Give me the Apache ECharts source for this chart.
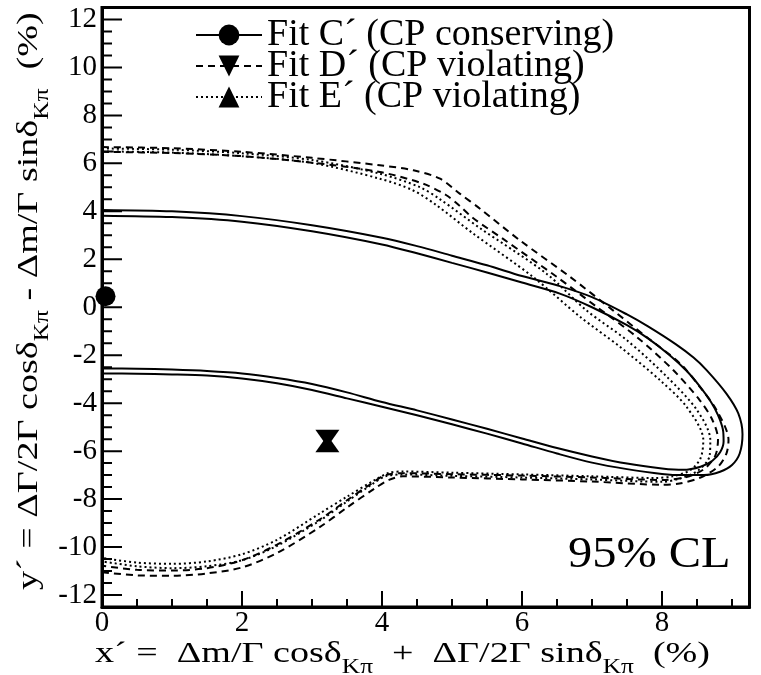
<!DOCTYPE html>
<html>
<head>
<meta charset="utf-8">
<script src="https://cdn.jsdelivr.net/npm/echarts@6/dist/echarts.min.js"></script>
<style>html,body{margin:0;padding:0;background:#fff}#c{width:761px;height:675px}</style>
</head>
<body>
<div id="c"></div>
<script>
// ---- data (in %) ----
const xMajorTicks = [0, 2, 4, 6, 8];
const xMinorTicks = [0.5, 1, 1.5, 2.5, 3, 3.5, 4.5, 5, 5.5, 6.5, 7, 7.5, 8.5, 9];
const yMajorTicks = [-12, -10, -8, -6, -4, -2, 0, 2, 4, 6, 8, 10, 12];
const yMinorTicks = [-11.5, -11, -10.5, -9.5, -9, -8.5, -7.5, -7, -6.5, -5.5, -5, -4.5, -3.5, -3, -2.5, -1.5, -1, -0.5,
                     0.5, 1, 1.5, 2.5, 3, 3.5, 4.5, 5, 5.5, 6.5, 7, 7.5, 8.5, 9, 9.5, 10.5, 11, 11.5];

const legendNames = ['Fit C´ (CP conserving)', 'Fit D´ (CP violating)', 'Fit E´ (CP violating)'];

// central values of the fits
const fitC = [[0.05, 0.46]];
const fitD = [[3.22, -5.46]];
const fitE = [[3.22, -5.69]];

// 95% CL contours, Fit C' (solid, two lines)
const contourC1 = [[0,4.06],[1,4.0],[2,3.8],[3,3.42],[4,2.9],[4.5,2.55],[5,2.15],[5.5,1.75],[6,1.3],[6.54,0.88],[7,0.42],[7.5,-0.3],[7.8,-0.8],[8.2,-1.55],[8.45,-2.1],[8.64,-2.63],[8.92,-3.6],[9.09,-4.43],[9.15,-5.3],[9.11,-6.1],[9.0,-6.58],[8.83,-6.86],[8.6,-7.0],[8.3,-7.0],[8.0,-6.95],[7.5,-6.75],[7,-6.48],[6.5,-6.1],[6,-5.68],[5.5,-5.27],[5,-4.88],[4.5,-4.5],[4,-4.15],[3.5,-3.8],[3,-3.45],[2.5,-3.17],[2,-2.97],[1.5,-2.85],[1,-2.8],[0.5,-2.77],[0,-2.76]];
const contourC2 = [[0,3.82],[1,3.76],[2,3.57],[3,3.17],[4,2.62],[4.5,2.25],[5,1.85],[5.5,1.45],[6,1.03],[6.54,0.57],[7,0.0],[7.5,-0.75],[7.8,-1.3],[8.11,-2.0],[8.35,-2.65],[8.54,-3.3],[8.7,-3.95],[8.8,-4.5],[8.87,-5.1],[8.88,-5.6],[8.83,-6.05],[8.72,-6.4],[8.55,-6.65],[8.3,-6.78],[8.0,-6.72],[7.5,-6.52],[7,-6.22],[6.5,-5.87],[6,-5.47],[5.5,-5.07],[5,-4.68],[4.5,-4.3],[4,-3.95],[3.5,-3.55],[3,-3.2],[2.5,-2.95],[2,-2.76],[1.5,-2.66],[1,-2.6],[0.5,-2.56],[0,-2.55]];

// Fit D' (dashed, two lines)
const contourD1 = [[0,6.68],[1,6.63],[2,6.48],[3,6.23],[3.97,5.92],[4.45,5.71],[4.83,5.36],[5.11,4.74],[5.4,4.11],[5.97,2.79],[6.69,1.26],[7.3,-0.13],[7.78,-1.24],[8.26,-2.35],[8.54,-3.32],[8.78,-4.29],[8.95,-5.54],[8.92,-6.1],[8.8,-6.65],[8.55,-7.1],[8.25,-7.35],[8.0,-7.4],[7,-7.27],[6,-7.18],[5,-7.1],[4.3,-7.05],[4.1,-7.2],[3.9,-7.55],[3.5,-8.35],[3.11,-9.17],[2.5,-10.25],[2,-10.85],[1.5,-11.1],[1,-11.2],[0.5,-11.18],[0,-11.05]];
const contourD2 = [[0,6.48],[1,6.43],[2,6.3],[3,6.03],[3.97,5.64],[4.59,5.15],[4.92,4.67],[5.1,4.25],[5.3,3.72],[5.73,2.85],[6.5,1.26],[7.07,0.01],[7.64,-1.24],[8.16,-2.62],[8.54,-3.88],[8.72,-4.7],[8.8,-5.5],[8.76,-6.2],[8.6,-6.75],[8.35,-7.08],[8.0,-7.2],[7,-7.1],[6,-7.02],[5,-6.96],[4.3,-6.92],[4.05,-7.0],[3.85,-7.35],[3.5,-8.05],[3.11,-8.85],[2.5,-9.9],[2,-10.55],[1.5,-10.88],[1,-10.98],[0.5,-10.95],[0,-10.78]];

// Fit E' (dotted, two lines)
const contourE1 = [[0,6.62],[1,6.57],[2,6.42],[3,6.14],[3.97,5.57],[4.54,5.01],[4.83,4.5],[5.4,3.3],[6.35,1.4],[6.92,-0.13],[7.5,-1.38],[8.07,-2.9],[8.5,-4.29],[8.69,-5.54],[8.68,-6.2],[8.52,-6.8],[8.25,-7.15],[8.0,-7.28],[7,-7.18],[6,-7.1],[5,-7.03],[4.3,-6.97],[4.05,-7.05],[3.85,-7.4],[3.5,-8.1],[3.11,-8.9],[2.5,-9.95],[2,-10.55],[1.5,-10.8],[1,-10.88],[0.5,-10.8],[0,-10.6]];
const contourE2 = [[0,6.5],[1,6.45],[2,6.3],[3,6.02],[3.97,5.36],[4.44,4.88],[4.78,4.25],[5.3,3.08],[6.16,1.26],[6.83,-0.4],[7.4,-1.65],[7.97,-3.04],[8.35,-4.15],[8.59,-5.54],[8.55,-6.3],[8.4,-6.8],[8.15,-7.05],[7.9,-7.12],[7,-7.05],[6,-6.97],[5,-6.9],[4.3,-6.85],[4.1,-6.9],[3.9,-7.2],[3.5,-7.9],[3.11,-8.6],[2.5,-9.7],[2,-10.3],[1.5,-10.6],[1,-10.7],[0.5,-10.65],[0,-10.45]];

const xTitle = '{m|x´ =  Δm/Γ cosδ}{s|Kπ}{m|  +  ΔΓ/2Γ sinδ}{s|Kπ}{m|  (%)}';
const yTitle = '{m|y´ = ΔΓ/2Γ cosδ}{s|Kπ}{m| - Δm/Γ sinδ}{s|Kπ}{m|  (%)}';
const clText = '95% CL';

// ---- chart ----
const FONT = '"Liberation Serif", "Times New Roman", Times, serif';
const DASH = [7, 5];
const DOT = [2, 3];
const W = 761, H = 675;
const GRID = {left: 102, right: 11.5, top: 7.5, bottom: 68};
const X_RANGE = {min: 0, max: 9.25};
const Y_RANGE = {min: -12.5, max: 12.5};
const TICK_PX = {xMajor: 16, xMinor: 8, yMajor: 20, yMinor: 10};

// tick lengths are given in pixels; convert them to axis units so the ticks go through the scales
const pxPerX = (W - GRID.left - GRID.right) / (X_RANGE.max - X_RANGE.min);
const pxPerY = (H - GRID.top - GRID.bottom) / (Y_RANGE.max - Y_RANGE.min);
const tickSegments = [];
function addXTicks(values, px) {
  values.forEach(v => { tickSegments.push([v, Y_RANGE.min], [v, Y_RANGE.min + px / pxPerY], [v, '-']); });
}
function addYTicks(values, px) {
  values.forEach(v => { tickSegments.push([X_RANGE.min, v], [X_RANGE.min + px / pxPerX, v], ['-', v]); });
}
addXTicks(xMajorTicks, TICK_PX.xMajor);
addXTicks(xMinorTicks, TICK_PX.xMinor);
addYTicks(yMajorTicks, TICK_PX.yMajor);
addYTicks(yMinorTicks, TICK_PX.yMinor);

function contour(name, data, type) {
  return {name: name, type: 'line', data: data, smooth: 0.3, showSymbol: false, symbol: 'none', silent: true,
    lineStyle: {color: '#000', width: 2, type: type}, itemStyle: {color: '#000'}, z: 2};
}
const richTitle = {
  m: {fontFamily: FONT, fontSize: 30, lineHeight: 30, verticalAlign: 'top', fill: '#000', color: '#000'},
  s: {fontFamily: FONT, fontSize: 20, lineHeight: 39, verticalAlign: 'bottom', fill: '#000', color: '#000'}
};

const chart = echarts.init(document.getElementById('c'), null, {renderer: 'canvas'});
chart.setOption({
  animation: false,
  backgroundColor: '#fff',
  grid: Object.assign({show: true, borderColor: '#000', borderWidth: 3, backgroundColor: 'transparent'}, GRID),
  legend: {data: legendNames, orient: 'vertical', left: 190, top: 11, itemWidth: 66, itemHeight: 26, itemGap: -7,
    textStyle: {fontFamily: FONT, fontSize: 38, color: '#000', lineHeight: 30}, selectedMode: false},
  xAxis: Object.assign({type: 'value', position: 'bottom',
     axisLine: {show: true, onZero: false, lineStyle: {color: '#000', width: 3}},
     axisTick: {show: false},
     axisLabel: {show: true, customValues: xMajorTicks, fontFamily: FONT, fontSize: 29, color: '#000', margin: 2},
     splitLine: {show: false}}, X_RANGE),
  yAxis: Object.assign({type: 'value', position: 'left',
     axisLine: {show: true, onZero: false, lineStyle: {color: '#000', width: 3}},
     axisTick: {show: false},
     axisLabel: {show: true, customValues: yMajorTicks, fontFamily: FONT, fontSize: 29, color: '#000', margin: 5},
     splitLine: {show: false}}, Y_RANGE),
  graphic: [
    {type: 'text', x: 95, y: 639, scaleX: 1.27, silent: true,
     style: {text: xTitle, rich: richTitle, align: 'left', verticalAlign: 'top', fill: '#000'}},
    {type: 'text', x: 14, y: 590, rotation: Math.PI / 2, scaleX: 1.27, silent: true,
     style: {text: yTitle, rich: richTitle, align: 'left', verticalAlign: 'top', fill: '#000'}},
    {type: 'text', x: 568, y: 555, scaleX: 1.1, silent: true,
     style: {text: clText, font: '44px ' + FONT, align: 'left', verticalAlign: 'middle', fill: '#000'}}
  ],
  series: [
    {name: 'ticks', type: 'line', data: tickSegments, connectNulls: false, showSymbol: false, symbol: 'none',
     silent: true, clip: false, z: 3, lineStyle: {color: '#000', width: 2, type: 'solid'}},
    contour('C1', contourC1, 'solid'), contour('C2', contourC2, 'solid'),
    contour('D1', contourD1, DASH), contour('D2', contourD2, DASH),
    contour('E1', contourE1, DOT), contour('E2', contourE2, DOT),
    {name: legendNames[0], type: 'line', data: fitC, symbol: 'circle', symbolSize: 20, showSymbol: true,
     lineStyle: {color: '#000', width: 2, type: 'solid'}, itemStyle: {color: '#000'}, z: 5},
    {name: legendNames[1], type: 'line', data: fitD, symbol: 'triangle', symbolRotate: 180, symbolSize: [24, 17], showSymbol: true,
     lineStyle: {color: '#000', width: 2, type: DASH}, itemStyle: {color: '#000'}, z: 5},
    {name: legendNames[2], type: 'line', data: fitE, symbol: 'triangle', symbolSize: [24, 17], showSymbol: true,
     lineStyle: {color: '#000', width: 2, type: DOT}, itemStyle: {color: '#000'}, z: 5}
  ]
});
</script>
</body>
</html>
